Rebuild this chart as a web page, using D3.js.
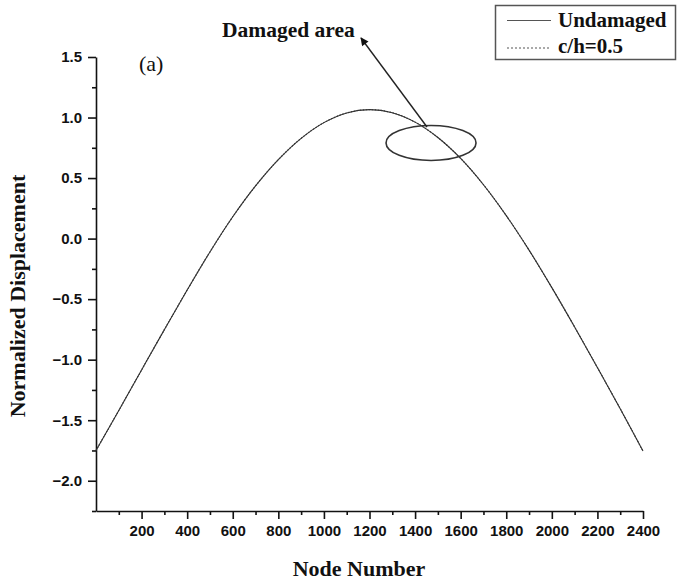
<!DOCTYPE html>
<html>
<head>
<meta charset="utf-8">
<script src="https://cdn.jsdelivr.net/npm/d3@7"></script>
<style>
  html, body { margin: 0; padding: 0; background: #fff; }
  svg { display: block; }
</style>
</head>
<body>
<svg id="chart" width="677" height="585"></svg>
<script>
// ---- data ----
const nodes = [0,100,200,300,400,500,600,700,800,900,1000,1100,1200,1300,1400,1500,1600,1700,1800,1900,2000,2100,2200,2300,2400];
const undamaged = [-1.75,-1.42,-1.085,-0.752,-0.425,-0.11,0.18,0.435,0.652,0.828,0.958,1.038,1.065,1.04,0.962,0.835,0.662,0.445,0.19,-0.095,-0.405,-0.73,-1.065,-1.405,-1.755];
const damaged = [-1.75,-1.42,-1.085,-0.752,-0.425,-0.11,0.18,0.435,0.652,0.828,0.958,1.038,1.065,1.04,0.962,0.835,0.662,0.445,0.19,-0.095,-0.405,-0.73,-1.065,-1.405,-1.755];
const xMajorTicks = [200,400,600,800,1000,1200,1400,1600,1800,2000,2200,2400];
const xMinorTicks = [100,300,500,700,900,1100,1300,1500,1700,1900,2100,2300];
const yMajorTicks = [-2.0,-1.5,-1.0,-0.5,0.0,0.5,1.0,1.5];
const yMinorTicks = [-2.25,-1.75,-1.25,-0.75,-0.25,0.25,0.75,1.25];
const seriesNames = ["Undamaged", "c/h=0.5"];
const xTitle = "Node Number";
const yTitle = "Normalized Displacement";
const panelLabel = "(a)";
const annotation = "Damaged area";
const damageCenter = {node: 1470, value: 0.79};

// ---- layout ----
const svg = d3.select("#chart");
const mLeft = 96, mRight = 643, mTop = 57, mBottom = 511;
const x = d3.scaleLinear().domain([0, 2400]).range([mLeft, mRight]);
const y = d3.scaleLinear().domain([-2.25, 1.5]).range([mBottom, mTop]);

const serif = "'Liberation Serif', 'Times New Roman', serif";
const sans = "'Liberation Sans', Arial, sans-serif";

svg.append("rect").attr("width", 677).attr("height", 585).attr("fill", "#fff");

// ---- axes ----
const xAxis = svg.append("g").attr("transform", `translate(0,${mBottom})`)
  .call(d3.axisBottom(x).tickValues(xMajorTicks).tickSize(8).tickPadding(6).tickFormat(d3.format("d")).tickSizeOuter(0));
const xMinor = svg.append("g").attr("transform", `translate(0,${mBottom})`)
  .call(d3.axisBottom(x).tickValues(xMinorTicks).tickSize(4).tickFormat("").tickSizeOuter(0));
const yAxis = svg.append("g").attr("transform", `translate(${mLeft},0)`)
  .call(d3.axisLeft(y).tickValues(yMajorTicks).tickSize(8).tickPadding(6).tickFormat(d3.format(".1f")).tickSizeOuter(0));
const yMinor = svg.append("g").attr("transform", `translate(${mLeft},0)`)
  .call(d3.axisLeft(y).tickValues(yMinorTicks).tickSize(4).tickFormat("").tickSizeOuter(0));

[xAxis, xMinor, yAxis, yMinor].forEach(g => {
  g.selectAll(".domain").attr("stroke", "#111").attr("stroke-width", 1.6);
  g.selectAll(".tick line").attr("stroke", "#111").attr("stroke-width", 1.6);
  g.selectAll("text").attr("font-family", sans).attr("font-weight", "bold")
    .attr("font-size", 15).attr("fill", "#111");
});
xMinor.select(".domain").remove();
yMinor.select(".domain").remove();

// axis titles
svg.append("text").attr("x", 359).attr("y", 576).attr("text-anchor", "middle")
  .attr("font-family", serif).attr("font-weight", "bold").attr("font-size", 22).attr("fill", "#111")
  .text(xTitle);
svg.append("text").attr("transform", `translate(25,296) rotate(-90)`).attr("text-anchor", "middle")
  .attr("font-family", serif).attr("font-weight", "bold").attr("font-size", 22).attr("fill", "#111")
  .text(yTitle);

// panel label
svg.append("text").attr("x", 139).attr("y", 71)
  .attr("font-family", serif).attr("font-size", 22).attr("fill", "#111").text(panelLabel);

// ---- lines ----
const pts = (vals) => nodes.map((n, i) => [n, vals[i]]);
const line = d3.line().x(d => x(d[0])).y(d => y(d[1])).curve(d3.curveCatmullRom.alpha(0.5));

svg.append("path").datum(pts(undamaged)).attr("d", line)
  .attr("fill", "none").attr("stroke", "#333").attr("stroke-width", 1.1);
svg.append("path").datum(pts(damaged)).attr("d", line)
  .attr("fill", "none").attr("stroke", "#333").attr("stroke-width", 1.1)
  .attr("stroke-dasharray", "1.5,1.5");

// ---- damaged-area annotation ----
svg.append("ellipse").attr("cx", x(damageCenter.node)).attr("cy", y(damageCenter.value))
  .attr("rx", 45).attr("ry", 17.5)
  .attr("fill", "none").attr("stroke", "#333").attr("stroke-width", 1.6);

const defs = svg.append("defs");
defs.append("marker").attr("id", "arrow").attr("viewBox", "0 0 10 10")
  .attr("refX", 9).attr("refY", 5).attr("markerWidth", 10).attr("markerHeight", 8)
  .attr("markerUnits", "userSpaceOnUse").attr("orient", "auto")
  .append("path").attr("d", "M0,0 L10,5 L0,10 Z").attr("fill", "#111");

svg.append("line").attr("x1", 427).attr("y1", 127).attr("x2", 361).attr("y2", 38)
  .attr("stroke", "#222").attr("stroke-width", 1.4).attr("marker-end", "url(#arrow)");

svg.append("text").attr("x", 222).attr("y", 37)
  .attr("font-family", serif).attr("font-weight", "bold").attr("font-size", 21.5).attr("fill", "#111")
  .text(annotation);

// ---- legend ----
const lg = svg.append("g");
lg.append("rect").attr("x", 495.5).attr("y", 5.5).attr("width", 180).attr("height", 54)
  .attr("fill", "#fff").attr("stroke", "#555").attr("stroke-width", 1.5);
const legendRows = [{y: 20.5, dash: null, label: seriesNames[0], ty: 27}, {y: 48, dash: "2,2", label: seriesNames[1], ty: 53}];
legendRows.forEach(r => {
  const l = lg.append("line").attr("x1", 507).attr("x2", 551).attr("y1", r.y).attr("y2", r.y)
    .attr("stroke", "#555").attr("stroke-width", 1.2);
  if (r.dash) l.attr("stroke-dasharray", r.dash);
  lg.append("text").attr("x", 558).attr("y", r.ty)
    .attr("font-family", serif).attr("font-weight", "bold").attr("font-size", 21).attr("fill", "#111")
    .text(r.label);
});
</script>
</body>
</html>
